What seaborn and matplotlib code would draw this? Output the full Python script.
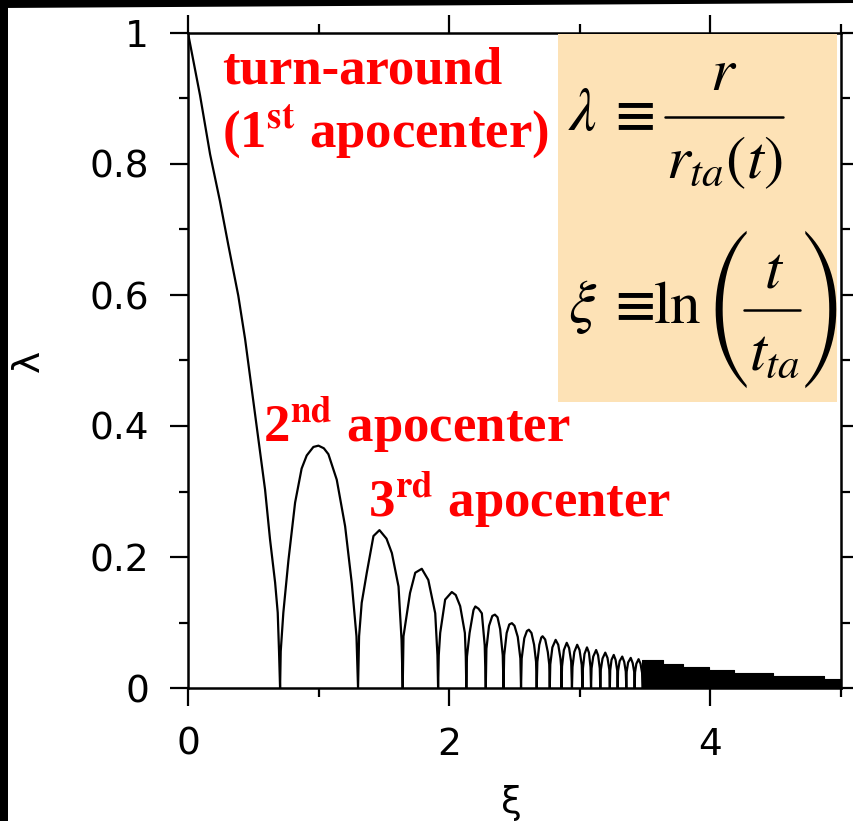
import numpy as np
import pandas as pd
import matplotlib
matplotlib.use("Agg")
import matplotlib.pyplot as plt
import seaborn as sns
from matplotlib.patches import Rectangle, Polygon
from matplotlib.lines import Line2D

# ---- data ----
xi_curve = [
    0.000, 0.092, 0.169, 0.245, 0.309, 0.385, 0.437, 0.488, 0.539, 0.590, 0.628, 0.667,
    0.687, 0.697, 0.705, 0.710, 0.730, 0.769, 0.820, 0.870, 0.909, 0.960, 0.999, 1.040,
    1.075, 1.139, 1.203, 1.254, 1.290, 1.302, 1.310, 1.330, 1.369, 1.420, 1.466, 1.520,
    1.561, 1.612, 1.635, 1.644, 1.650, 1.700, 1.740, 1.790, 1.840, 1.893, 1.910, 1.915,
    1.920, 1.931, 1.969, 2.020, 2.050, 2.084, 2.120, 2.127, 2.131, 2.136, 2.156, 2.186,
    2.200, 2.225, 2.250, 2.272, 2.280,
    2.285, 2.305, 2.330, 2.350, 2.370, 2.390, 2.410, 2.416,
    2.421, 2.440, 2.460, 2.480, 2.500, 2.525, 2.545, 2.550,
    2.555, 2.575, 2.595, 2.610, 2.630, 2.650, 2.665, 2.670,
    2.675, 2.690, 2.705, 2.715, 2.735, 2.755, 2.766, 2.770,
    2.774, 2.790, 2.815, 2.835, 2.852, 2.857, 2.860,
    2.864, 2.878, 2.900, 2.918, 2.934, 2.940,
    2.944, 2.958, 2.980, 2.998, 3.015, 3.020,
    3.024, 3.036, 3.055, 3.070, 3.082, 3.086,
    3.090, 3.103, 3.125, 3.140, 3.153, 3.157,
    3.161, 3.174, 3.195, 3.212, 3.226, 3.230,
    3.233, 3.243, 3.260, 3.274, 3.287, 3.290,
    3.293, 3.305, 3.325, 3.340, 3.352, 3.356,
    3.359, 3.370, 3.390, 3.405, 3.417, 3.420,
    3.423, 3.433, 3.450, 3.465, 3.477, 3.480,
]
lam_curve = [
    1.000, 0.905, 0.815, 0.743, 0.676, 0.599, 0.533, 0.456, 0.380, 0.303, 0.227, 0.161,
    0.115, 0.056, 0.000, 0.056, 0.115, 0.195, 0.283, 0.335, 0.355, 0.368, 0.370, 0.366,
    0.357, 0.318, 0.247, 0.160, 0.079, 0.000, 0.079, 0.130, 0.176, 0.232, 0.241, 0.228,
    0.206, 0.155, 0.074, 0.000, 0.079, 0.145, 0.176, 0.182, 0.165, 0.114, 0.050, 0.000,
    0.050, 0.084, 0.135, 0.1465, 0.142, 0.125, 0.084, 0.048, 0.000, 0.048, 0.084, 0.119,
    0.1245, 0.121, 0.114, 0.065, 0.000,
    0.060, 0.095, 0.110, 0.112, 0.108, 0.090, 0.050, 0.000,
    0.050, 0.084, 0.097, 0.099, 0.095, 0.078, 0.045, 0.000,
    0.045, 0.076, 0.087, 0.089, 0.084, 0.066, 0.040, 0.000,
    0.040, 0.066, 0.077, 0.079, 0.074, 0.055, 0.036, 0.000,
    0.036, 0.062, 0.0735, 0.066, 0.045, 0.033, 0.000,
    0.033, 0.058, 0.069, 0.061, 0.040, 0.000,
    0.032, 0.055, 0.066, 0.058, 0.035, 0.000,
    0.030, 0.052, 0.062, 0.054, 0.032, 0.000,
    0.030, 0.048, 0.058, 0.050, 0.030, 0.000,
    0.028, 0.045, 0.054, 0.046, 0.028, 0.000,
    0.027, 0.043, 0.0505, 0.043, 0.026, 0.000,
    0.026, 0.041, 0.048, 0.040, 0.025, 0.000,
    0.025, 0.039, 0.046, 0.038, 0.024, 0.000,
    0.024, 0.037, 0.044, 0.037, 0.023, 0.000,
]
# dense, unresolved oscillations at late times (upper envelope)
tail_xi = [3.48, 3.64, 3.79, 3.99, 4.18, 4.48, 4.87, 5.00]
tail_lam = [0.043, 0.037, 0.032, 0.028, 0.0235, 0.0184, 0.0143, 0.0143]

xticks = [0, 2, 4]
xtick_labels = ["0", "2", "4"]
yticks = [0, 0.2, 0.4, 0.6, 0.8, 1.0]
ytick_labels = ["0", "0.2", "0.4", "0.6", "0.8", "1"]

# ---- style ----
sns.set_theme(style="ticks")
plt.rcParams["font.family"] = ["DejaVu Sans"]
plt.rcParams["mathtext.fontset"] = "stix"

W, H = 854, 821
fig = plt.figure(figsize=(W / 100, H / 100), dpi=100)
fig.patch.set_facecolor("white")
ax = fig.add_axes([188 / W, 133 / H, 653 / W, 655 / H])
ax.set_facecolor("white")


def fx(x):
    return x / W


def fy(y):
    return 1 - y / H


df = pd.DataFrame({"xi": xi_curve, "lam": lam_curve})
sns.lineplot(data=df, x="xi", y="lam", sort=False, estimator=None,
             color="black", lw=1.6, ax=ax)
ax.fill_between(tail_xi, 0, tail_lam, step="post", color="black", lw=0.8,
                edgecolor="black")

ax.set_xlim(0, 5)
ax.set_ylim(0, 1)
ax.set_xticks(xticks)
ax.set_xticklabels(xtick_labels)
ax.set_xticks([1, 3, 5], minor=True)
ax.set_yticks(yticks)
ax.set_yticklabels(ytick_labels)
ax.set_yticks([0.1, 0.3, 0.5, 0.7, 0.9], minor=True)

for s in ax.spines.values():
    s.set_visible(True)
    s.set_color("black")
    s.set_linewidth(1.8)

ax.tick_params(which="both", direction="out", top=True, right=True,
               labeltop=False, labelright=False, color="black", width=1.6)
ax.tick_params(which="major", length=13, labelsize=27, pad=15, labelcolor="black")
ax.tick_params(which="minor", length=6.5)

ax.set_xlabel("ξ", fontsize=27, color="black")
ax.set_ylabel("λ", fontsize=27, color="black")
ax.xaxis.set_label_coords(0.496, -0.148)
ax.yaxis.set_label_coords(-0.216, 0.5)

# ---- annotations ----
red_kw = dict(color="#ff0000", fontsize=38, fontfamily="Liberation Serif",
              fontweight="bold", va="baseline", ha="left", zorder=5)
ax.text(0.26, 0.923, "turn-around", **red_kw)
ax.text(0.26, 0.827, r"(1$^{\mathbf{st}}$ apocenter)", **red_kw)
ax.text(0.575, 0.377, r"2$^{\mathbf{nd}}$ apocenter", **red_kw)
ax.text(1.38, 0.262, r"3$^{\mathbf{rd}}$ apocenter", **red_kw)

# formula box
ax.add_patch(Rectangle((2.835, 0.4364), 4.973 - 2.835, 0.998 - 0.4364,
                       facecolor="#fde2b6", edgecolor="none", zorder=3,
                       clip_on=False))

fk = dict(fontsize=44, color="black", zorder=6)
ek = dict(fontsize=40, color="black", zorder=6, fontfamily="STIXGeneral",
          fontweight="bold", ha="center", va="center")
# lambda = r / r_ta(t)
fig.text(fx(568), fy(130), r"$\lambda$", ha="left", va="baseline", **fk)
fig.text(fx(635), fy(117), "≡", **ek)
fig.text(fx(724), fy(90), r"$r$", ha="center", va="baseline", **fk)
fig.add_artist(Line2D([fx(665), fx(783)], [fy(117), fy(117)],
                      transform=fig.transFigure, color="black", lw=1.8, zorder=6))
fig.text(fx(724), fy(178), r"$r_{ta}(t)$", ha="center", va="baseline", **fk)
# xi = ln(t / t_ta)
fig.text(fx(568), fy(322), r"$\xi$", ha="left", va="baseline", **fk)
fig.text(fx(635), fy(307), "≡", **ek)
fig.text(fx(653), fy(323), r"$\mathrm{ln}$", ha="left", va="baseline", **fk)
fig.text(fx(774), fy(287), r"$t$", ha="center", va="baseline", **fk)
fig.add_artist(Line2D([fx(744), fx(800)], [fy(310), fy(310)],
                      transform=fig.transFigure, color="black", lw=1.8, zorder=6))
fig.text(fx(775), fy(370), r"$t_{ta}$", ha="center", va="baseline", **fk)
pk = dict(fontsize=46, color="black", zorder=6, fontfamily="STIXSizeThreeSym",
          va="center")
fig.text(fx(751), fy(309), "(", ha="right", **pk)
fig.text(fx(800), fy(309), ")", ha="left", **pk)

# black frame remnants at left and top edges
fig.patches.append(Rectangle((0, 0), 8 / W, 1, transform=fig.transFigure,
                             facecolor="black", edgecolor="none", zorder=10))
fig.patches.append(Polygon([(0, 1), (1, 1), (1, 1 - 3 / H), (0, 1 - 8 / H)],
                           closed=True, transform=fig.transFigure,
                           facecolor="black", edgecolor="none", zorder=10))

fig.savefig("out.png", dpi=100)
